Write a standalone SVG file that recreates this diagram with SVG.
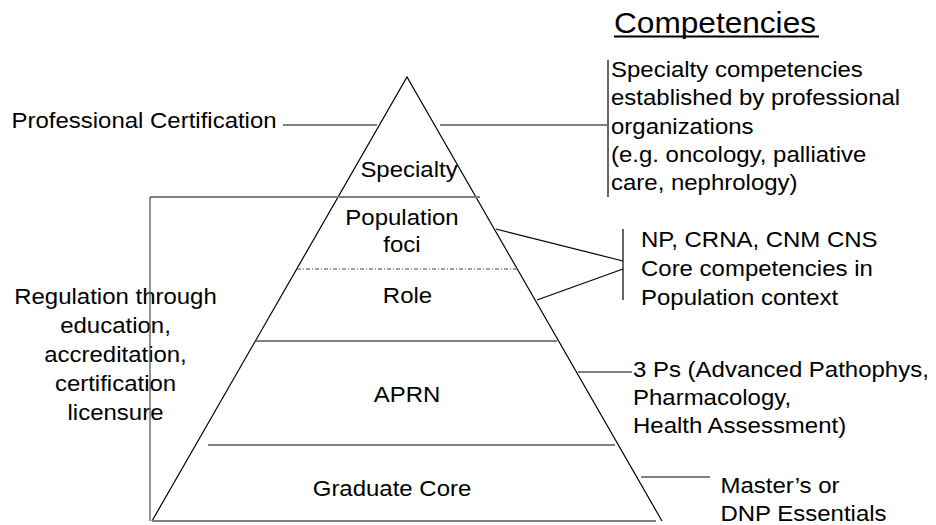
<svg xmlns="http://www.w3.org/2000/svg" width="936" height="525" viewBox="0 0 936 525">
<style>
.t{font-family:"Liberation Sans",Arial,sans-serif;font-size:22px;fill:#000}
.h{font-family:"Liberation Sans",Arial,sans-serif;font-size:29px;fill:#000}
.g{stroke:#808080;stroke-width:2;fill:none}
.k{stroke:#000;stroke-width:1.2;fill:none}
.d{stroke:#808080;stroke-width:1.5;stroke-dasharray:4 2 1 2;fill:none}
.v{stroke:#555;stroke-width:1.3;fill:none}
</style>
<rect width="936" height="525" fill="#fff"/>
<g id="pyramid">
<polyline class="k" points="152,521 407,77 662,521"/>
<line class="g" x1="150" y1="197" x2="480" y2="197"/>
<line class="d" x1="297" y1="269" x2="517" y2="269"/>
<line class="g" x1="256" y1="341" x2="557" y2="341"/>
<line class="g" x1="208" y1="445" x2="615" y2="445"/>
<line class="g" x1="152" y1="521" x2="656" y2="521"/>
</g>
<g id="specialty"><text class="t" text-anchor="middle" transform="translate(409 177) scale(1.09 1)">Specialty</text></g>
<g id="population"><text class="t" text-anchor="middle" transform="translate(402 225) scale(1.09 1)"><tspan x="0">Population</tspan><tspan x="0" dy="27">foci</tspan></text></g>
<g id="role"><text class="t" text-anchor="middle" transform="translate(407.5 303) scale(1.09 1)">Role</text></g>
<g id="aprn"><text class="t" text-anchor="middle" transform="translate(407 402) scale(1.09 1)">APRN</text></g>
<g id="graduate-core"><text class="t" text-anchor="middle" transform="translate(392 496) scale(1.09 1)">Graduate Core</text></g>
<g id="professional-certification"><text class="t" transform="translate(11.5 128) scale(1.09 1)">Professional Certification</text></g>
<g id="regulation"><text class="t" text-anchor="middle" transform="translate(115.5 304) scale(1.09 1)"><tspan x="0">Regulation through</tspan><tspan x="0" dy="29">education,</tspan><tspan x="0" dy="29">accreditation,</tspan><tspan x="0" dy="29">certification</tspan><tspan x="0" dy="29">licensure</tspan></text></g>
<g id="competencies-title"><text class="h" transform="translate(614 33) scale(1.09 1)">Competencies</text><line x1="614" y1="36.5" x2="819" y2="36.5" stroke="#000" stroke-width="2"/></g>
<g id="specialty-competencies"><text class="t" transform="translate(611 77) scale(1.09 1)"><tspan x="0">Specialty competencies</tspan><tspan x="0" dy="28.3">established by professional</tspan><tspan x="0" dy="28.3">organizations</tspan><tspan x="0" dy="28.3">(e.g. oncology, palliative</tspan><tspan x="0" dy="28.3">care, nephrology)</tspan></text></g>
<g id="core-competencies"><text class="t" transform="translate(641 247) scale(1.09 1)"><tspan x="0">NP, CRNA, CNM CNS</tspan><tspan x="0" dy="29">Core competencies in</tspan><tspan x="0" dy="29">Population context</tspan></text></g>
<g id="three-ps"><text class="t" transform="translate(633 377) scale(1.09 1)"><tspan x="0">3 Ps (Advanced Pathophys,</tspan><tspan x="0" dy="28">Pharmacology,</tspan><tspan x="0" dy="28">Health Assessment)</tspan></text></g>
<g id="essentials"><text class="t" transform="translate(720.5 493) scale(1.09 1)"><tspan x="0">Master’s or</tspan><tspan x="0" dy="28.5">DNP Essentials</tspan></text></g>
<g id="connectors">
<line class="g" x1="283" y1="125" x2="377" y2="125"/>
<line class="g" x1="440" y1="125" x2="607" y2="125"/>
<line class="k" x1="608" y1="60" x2="608" y2="197"/>
<line class="k" x1="496" y1="229" x2="623" y2="261"/>
<line class="k" x1="537" y1="300" x2="623" y2="269"/>
<line class="k" x1="623" y1="229" x2="623" y2="300"/>
<line class="g" x1="578" y1="372" x2="632" y2="372"/>
<line class="g" x1="641" y1="477" x2="710" y2="477"/>
<line class="v" x1="150" y1="197" x2="150" y2="521"/>
</g>
</svg>
